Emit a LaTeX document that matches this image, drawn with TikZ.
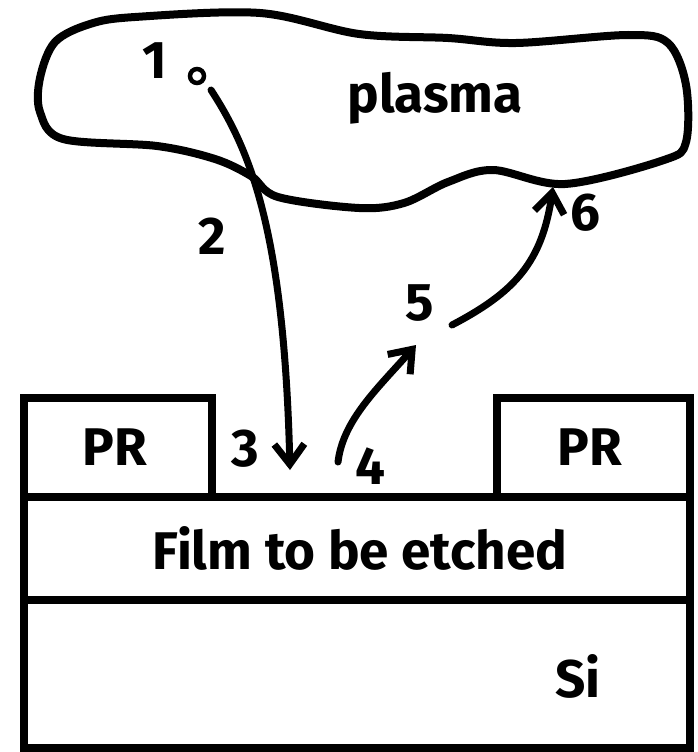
\documentclass[tikz,border=0pt]{standalone}
\usepackage{fontspec}
\setmainfont{Fira Sans}
\usetikzlibrary{arrows.meta}

\begin{document}
\begin{tikzpicture}[
  x=1pt, y=-1pt,
  every node/.style={inner sep=1pt, font=\fontsize{53}{60}\selectfont\bfseries},
  layer/.style={draw, line width=8pt},
  cloud/.style={draw, line width=8pt, line join=round},
  flux/.style={draw, line width=7pt, line cap=round,
    -{Straight Barb[length=20pt, width=30pt, line width=7pt]}}]

  \useasboundingbox (0,0) rectangle (698,752);

  % stack: Si, film, resist
  \draw[layer] (24,600) rectangle (690,748);
  \draw[layer] (24,497) rectangle (690,600);
  \draw[layer] (24,398) rectangle (212,497);
  \draw[layer] (497,398) rectangle (690,497);

  % plasma region
  \draw[cloud] plot[smooth cycle, tension=0.55] coordinates {
    (90,24) (135,17) (260,13) (359,34) (448,38) (516,43) (628,35)
    (668,43) (686,85) (686,142) (664,160) (565,184) (493,170)
    (448,182) (404,203) (359,208) (278,197) (251,176) (215,159)
    (157,146) (63,139) (40,112) (40,78) (55,42)};

  % labels
  \node (plasma) at (435,98)  {plasma};
  \node (prl)    at (115,447) {PR};
  \node (prr)    at (590,447) {PR};
  \node (film)   at (360,548) {Film to be etched};
  \node (si)     at (578,676) {Si};
  \node (n1)     at (155,61)  {1};
  \node (n2)     at (212,236) {2};
  \node (n3)     at (245,449) {3};
  \node (n4)     at (370,466) {4};
  \node (n5)     at (420,303) {5};
  \node (n6)     at (585,213) {6};

  % radical and its path
  \node[circle, draw, line width=4.5pt, minimum size=14pt, inner sep=0pt] (rad) at (197,76) {};
  \coordinate (start) at (211,90);
  \coordinate (hit)   at (290,470);
  \coordinate (leave) at (338,462);
  \coordinate (up)    at (416,345);
  \coordinate (go)    at (452,325);
  \coordinate (back)  at (553,187);

  \draw[flux] (start) .. controls (250,150) and (284,230) .. (hit);
  \draw[flux] (leave) .. controls (343,420) and (378,388) .. (up);
  \draw[flux] (go) .. controls (515,292) and (542,262) .. (back);
\end{tikzpicture}
\end{document}
